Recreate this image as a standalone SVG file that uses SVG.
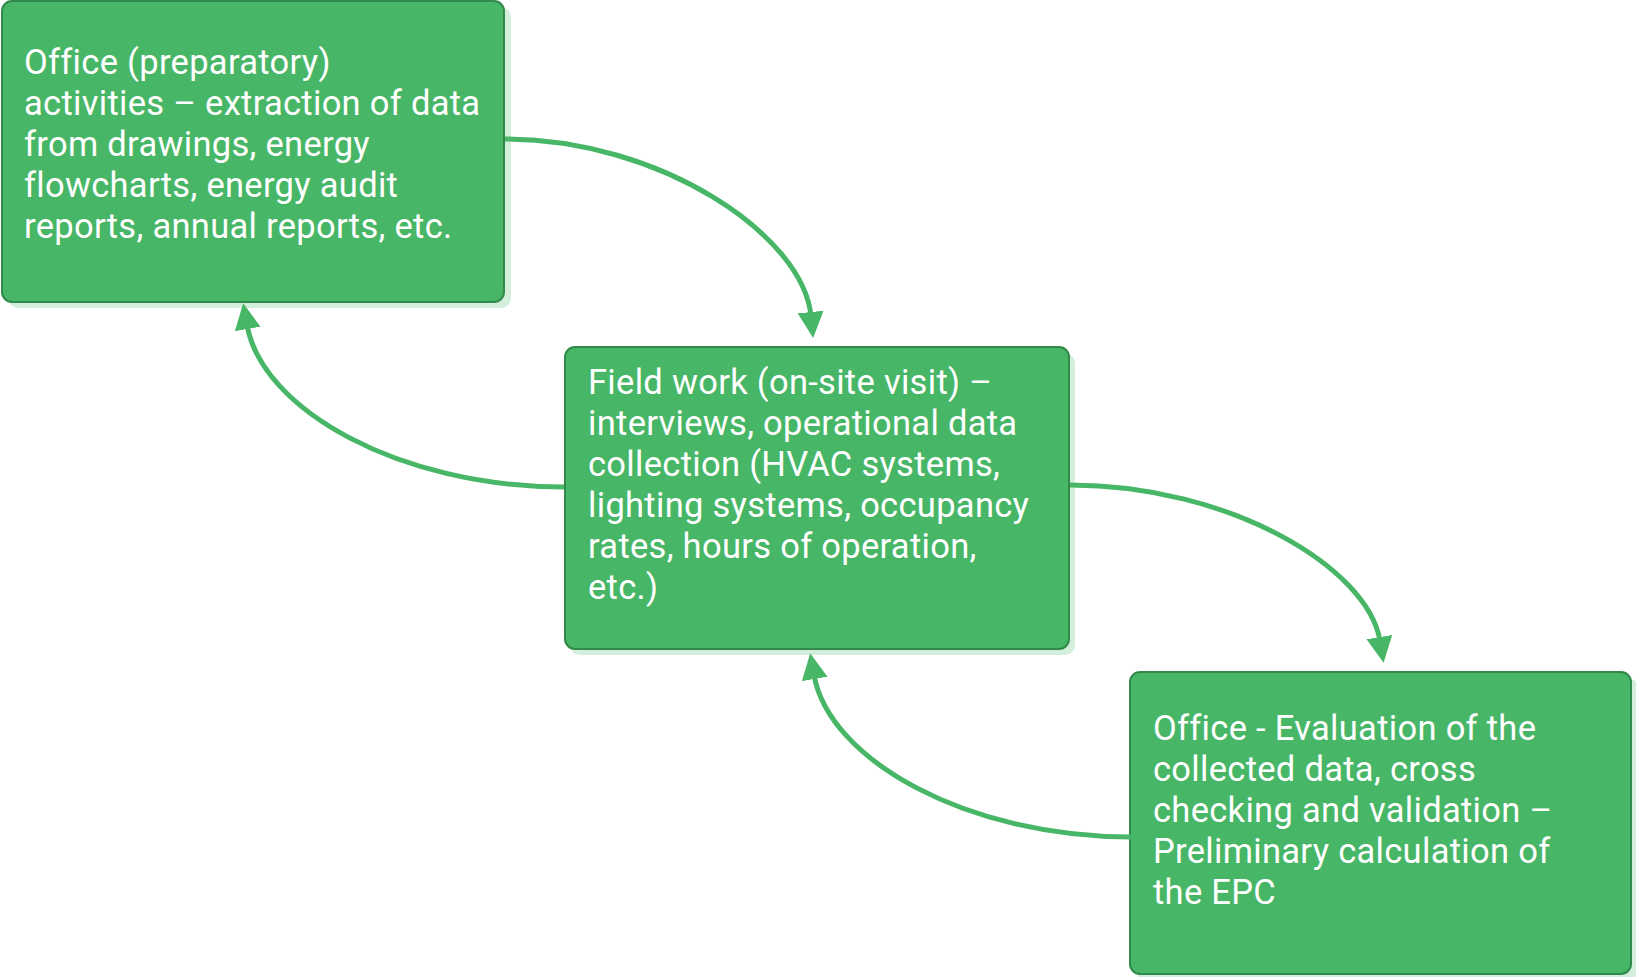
<svg xmlns="http://www.w3.org/2000/svg" width="1636" height="977" viewBox="0 0 1636 977">
  <style>
    .shadow { fill: #d3eedb; }
    .box { fill: #48b667; stroke: #318a4a; stroke-width: 2; }
    .label { font-family: Roboto, "Open Sans", "DejaVu Sans", sans-serif; font-size: 34.5px; letter-spacing: 0.3px; fill: #ffffff; }
    .link { fill: none; stroke: #48b667; stroke-width: 5; }
  </style>
  <defs>
    <marker id="arrow" markerUnits="userSpaceOnUse" markerWidth="28" markerHeight="28" refX="4" refY="13" orient="auto">
      <path d="M0,0 L26,13 L0,26 z" fill="#48b667"/>
    </marker>
  </defs>

  <rect width="1636" height="977" fill="#ffffff"/>

  <!-- preparatory office work -->
  <g id="node-office-prep">
    <rect class="shadow" x="8" y="7" width="503" height="301" rx="10"/>
    <rect class="box" x="2" y="1" width="502" height="301" rx="10"/>
    <text class="label">
      <tspan x="24" y="74">Office (preparatory)</tspan>
      <tspan x="24" y="115">activities – extraction of data</tspan>
      <tspan x="24" y="156">from drawings, energy</tspan>
      <tspan x="24" y="197">flowcharts, energy audit</tspan>
      <tspan x="24" y="238">reports, annual reports, etc.</tspan>
    </text>
  </g>

  <!-- on-site visit -->
  <g id="node-field-work">
    <rect class="shadow" x="570" y="353" width="505" height="302" rx="10"/>
    <rect class="box" x="565" y="347" width="504" height="302" rx="10"/>
    <text class="label">
      <tspan x="588" y="394">Field work (on-site visit) –</tspan>
      <tspan x="588" y="435">interviews, operational data</tspan>
      <tspan x="588" y="476">collection (HVAC systems,</tspan>
      <tspan x="588" y="517">lighting systems, occupancy</tspan>
      <tspan x="588" y="558">rates, hours of operation,</tspan>
      <tspan x="588" y="599">etc.)</tspan>
    </text>
  </g>

  <!-- evaluation and EPC calculation -->
  <g id="node-office-eval">
    <rect class="shadow" x="1136" y="678" width="502" height="302" rx="10"/>
    <rect class="box" x="1130" y="672" width="501" height="302" rx="10"/>
    <text class="label">
      <tspan x="1153" y="740">Office - Evaluation of the</tspan>
      <tspan x="1153" y="781">collected data, cross</tspan>
      <tspan x="1153" y="822">checking and validation –</tspan>
      <tspan x="1153" y="863">Preliminary calculation of</tspan>
      <tspan x="1153" y="904">the EPC</tspan>
    </text>
  </g>

  <!-- connectors, drawn over the box shadows -->
  <g id="connectors">
    <path class="link" d="M505,139 C660,139 803,235 811,316" marker-end="url(#arrow)"/>
    <path class="link" d="M564,487 C400,487 262,410 247,325" marker-end="url(#arrow)"/>
    <path class="link" d="M1070,485 C1230,485 1368,568 1380,641" marker-end="url(#arrow)"/>
    <path class="link" d="M1131,837 C967,837 829,760 814,675" marker-end="url(#arrow)"/>
  </g>
</svg>
